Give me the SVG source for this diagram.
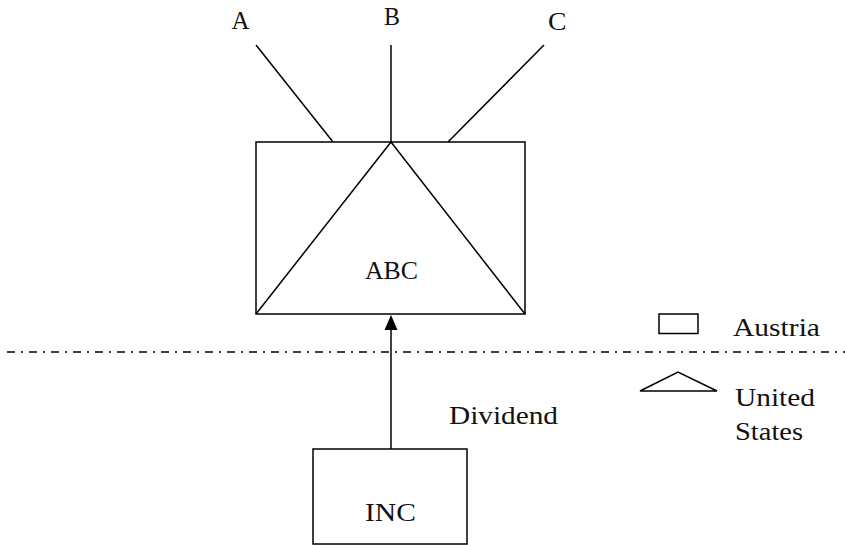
<svg xmlns="http://www.w3.org/2000/svg" width="845" height="545" viewBox="0 0 845 545">
<style>
.s{fill:none;stroke:#000;stroke-width:1.5}
text{font-family:"Liberation Serif","Times New Roman",serif;font-size:25px;fill:#111}
</style>
<rect width="845" height="545" fill="#fff"/>
<g id="connectors">
<line class="s" x1="256" y1="45" x2="333" y2="142"/>
<line class="s" x1="391" y1="45" x2="391" y2="142"/>
<line class="s" x1="544" y1="45" x2="448" y2="142"/>
<path d="M391,449 L391,330" class="s"/>
<path d="M384.5,330 L391,315 L397.5,330 Z" fill="#000"/>
<line x1="7" y1="352" x2="845" y2="352" stroke="#000" stroke-width="1.5" stroke-dasharray="8,6,2,6"/>
</g>
<g id="A"><text x="231.5" y="29" textLength="18" lengthAdjust="spacingAndGlyphs">A</text></g>
<g id="B"><text x="384" y="25" textLength="16" lengthAdjust="spacingAndGlyphs">B</text></g>
<g id="C"><text x="548" y="30" textLength="18.5" lengthAdjust="spacingAndGlyphs">C</text></g>
<g id="ABC">
<rect class="s" x="256" y="142" width="269" height="172"/>
<polyline class="s" points="256,314 391,142 525,314"/>
<text x="365" y="279" textLength="53" lengthAdjust="spacingAndGlyphs">ABC</text>
</g>
<g id="dividend"><text x="449" y="424" textLength="109" lengthAdjust="spacingAndGlyphs">Dividend</text></g>
<g id="INC">
<rect class="s" x="313" y="449" width="154" height="95"/>
<text x="365" y="521" textLength="51" lengthAdjust="spacingAndGlyphs">INC</text>
</g>
<g id="legend-austria">
<rect class="s" x="659" y="314" width="39" height="19.5"/>
<text x="733" y="336" textLength="87" lengthAdjust="spacingAndGlyphs">Austria</text>
</g>
<g id="legend-us">
<polygon class="s" points="640,391 678,372 717,391"/>
<text x="735" y="406" textLength="80" lengthAdjust="spacingAndGlyphs">United</text>
<text x="735" y="440" textLength="68" lengthAdjust="spacingAndGlyphs">States</text>
</g>
</svg>
